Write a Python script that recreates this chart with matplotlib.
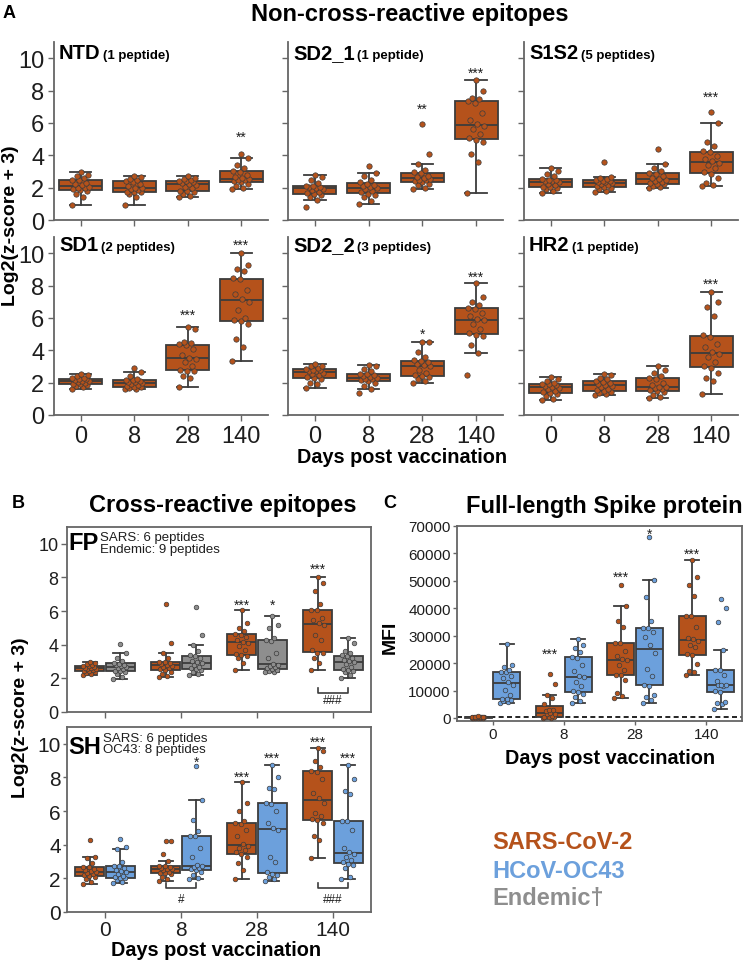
import numpy as np
import matplotlib
matplotlib.use('Agg')
import matplotlib.pyplot as plt

plt.rcParams['font.family'] = ['Liberation Sans', 'DejaVu Sans']

W, H = 744, 962
ORANGE = '#B5521B'
BLUE = '#6CA0DC'
GREY = '#8E8E8E'
EDGE = '#3C3C3C'
SPINE = '#666666'
TXT = '#1E1E1E'

days = ['0', '8', '28', '140']
log_ticks = [0, 2, 4, 6, 8, 10]
mfi_ticks = [0, 10000, 20000, 30000, 40000, 50000, 60000, 70000]

# ---- panel A: non-cross-reactive epitopes, SARS-CoV-2 only (day 0, 8, 28, 140)
a_names = ['NTD', 'SD2_1', 'S1S2', 'SD1', 'SD2_2', 'HR2']
a_notes = ['(1 peptide)', '(1 peptide)', '(5 peptides)', '(2 peptides)', '(3 peptides)', '(1 peptide)']

ntd = [
    [0.95, 1.4, 1.6, 1.8, 1.85, 1.9, 1.95, 2.0, 2.05, 2.15, 2.2, 2.3, 2.45, 2.5, 2.6, 2.7, 2.8, 2.95],
    [0.95, 1.45, 1.6, 1.7, 1.72, 1.76, 1.85, 1.9, 1.95, 2.0, 2.1, 2.2, 2.35, 2.42, 2.5, 2.55, 2.65, 2.7],
    [1.4, 1.5, 1.6, 1.7, 1.77, 1.8, 1.95, 2.05, 2.15, 2.25, 2.3, 2.33, 2.38, 2.42, 2.5, 2.55, 2.62, 2.7],
    [1.9, 2.0, 2.1, 2.25, 2.33, 2.4, 2.45, 2.5, 2.52, 2.58, 2.65, 2.8, 2.95, 3.02, 3.2, 3.4, 3.85, 4.05],
]
sd2_1 = [
    [0.83, 1.25, 1.4, 1.55, 1.6, 1.65, 1.75, 1.85, 1.9, 2.0, 2.02, 2.05, 2.08, 2.1, 2.3, 2.5, 2.65, 2.8],
    [1.0, 1.2, 1.4, 1.55, 1.63, 1.7, 1.8, 1.9, 1.95, 2.05, 2.1, 2.15, 2.25, 2.32, 2.5, 2.7, 2.9, 3.35],
    [1.9, 2.0, 2.15, 2.25, 2.32, 2.38, 2.45, 2.5, 2.55, 2.6, 2.65, 2.75, 2.9, 2.94, 3.1, 3.48, 4.06, 5.94],
    [1.69, 3.6, 4.1, 4.8, 4.95, 5.05, 5.3, 5.6, 5.8, 5.95, 6.2, 6.6, 7.2, 7.38, 7.5, 7.55, 8.0, 8.66],
]
s1s2 = [
    [1.67, 1.8, 1.9, 2.0, 2.02, 2.06, 2.15, 2.25, 2.32, 2.38, 2.4, 2.45, 2.5, 2.53, 2.7, 2.85, 3.0, 3.2],
    [1.7, 1.8, 1.9, 2.0, 2.04, 2.08, 2.15, 2.2, 2.28, 2.32, 2.35, 2.4, 2.43, 2.46, 2.55, 2.6, 2.67, 3.57],
    [2.0, 2.05, 2.1, 2.2, 2.24, 2.28, 2.35, 2.42, 2.5, 2.55, 2.62, 2.7, 2.85, 2.9, 3.0, 3.2, 3.48, 4.4],
    [2.08, 2.15, 2.3, 2.6, 2.85, 2.95, 3.2, 3.4, 3.55, 3.63, 3.8, 3.95, 4.2, 4.24, 4.6, 4.8, 6.0, 6.7],
]
sd1 = [
    [1.59, 1.7, 1.8, 1.85, 1.89, 1.93, 2.0, 2.05, 2.08, 2.12, 2.15, 2.2, 2.24, 2.26, 2.3, 2.4, 2.5, 2.56],
    [1.59, 1.62, 1.68, 1.72, 1.74, 1.78, 1.85, 1.9, 1.97, 2.03, 2.06, 2.1, 2.15, 2.17, 2.25, 2.4, 2.66, 2.9],
    [1.75, 2.3, 2.4, 2.7, 2.75, 2.8, 3.0, 3.25, 3.45, 3.55, 3.7, 4.1, 4.3, 4.37, 4.45, 4.5, 5.3, 5.44],
    [3.36, 4.2, 4.7, 5.6, 5.8, 5.85, 6.0, 6.5, 7.0, 7.18, 7.5, 7.7, 8.4, 8.44, 8.9, 9.0, 9.3, 10.0],
]
sd2_2 = [
    [1.67, 1.9, 1.95, 2.2, 2.28, 2.32, 2.45, 2.55, 2.62, 2.7, 2.74, 2.78, 2.8, 2.83, 2.9, 3.0, 3.05, 3.13],
    [1.34, 1.59, 1.8, 2.0, 2.08, 2.15, 2.2, 2.25, 2.28, 2.34, 2.38, 2.45, 2.52, 2.56, 2.7, 2.85, 3.0, 3.09],
    [2.0, 2.1, 2.2, 2.35, 2.4, 2.45, 2.6, 2.8, 3.0, 3.06, 3.15, 3.25, 3.35, 3.37, 3.6, 3.9, 4.5, 4.52],
    [2.47, 3.81, 4.3, 4.9, 4.95, 5.05, 5.3, 5.6, 5.85, 5.91, 6.1, 6.3, 6.55, 6.62, 6.8, 7.0, 7.3, 8.14],
]
hr2 = [
    [0.93, 1.0, 1.15, 1.3, 1.37, 1.42, 1.5, 1.6, 1.68, 1.74, 1.8, 1.85, 1.9, 1.93, 2.0, 2.1, 2.2, 2.35],
    [1.22, 1.3, 1.35, 1.45, 1.49, 1.53, 1.6, 1.7, 1.8, 1.88, 1.92, 1.98, 2.05, 2.09, 2.2, 2.3, 2.45, 2.56],
    [1.07, 1.1, 1.25, 1.4, 1.49, 1.53, 1.58, 1.65, 1.7, 1.76, 1.85, 2.0, 2.25, 2.28, 2.4, 2.6, 2.8, 3.01],
    [1.28, 2.1, 2.3, 2.6, 2.9, 3.05, 3.3, 3.6, 3.8, 3.92, 4.2, 4.4, 4.8, 4.92, 6.1, 6.7, 7.0, 7.59],
]
a_stars = [['', '', '', '**'], ['', '', '**', '***'], ['', '', '', '***'],
           ['', '', '***', '***'], ['', '', '*', '***'], ['', '', '', '***']]
a_star_y = [[0, 0, 0, 5.4], [0, 0, 7.13, 9.34], [0, 0, 0, 7.88],
            [0, 0, 6.43, 10.76], [0, 0, 5.3, 8.8], [0, 0, 0, 8.39]]

# ---- panel B: cross-reactive epitopes
fp_sars = [
    [2.2, 2.25, 2.3, 2.38, 2.41, 2.45, 2.5, 2.55, 2.58, 2.6, 2.63, 2.67, 2.72, 2.74, 2.8, 2.85, 2.9, 2.99],
    [2.06, 2.15, 2.25, 2.4, 2.49, 2.53, 2.6, 2.7, 2.75, 2.79, 2.85, 2.9, 2.98, 3.0, 3.2, 3.49, 4.08, 6.44],
    [2.5, 2.9, 3.2, 3.35, 3.4, 3.45, 3.7, 3.9, 4.1, 4.18, 4.3, 4.45, 4.6, 4.64, 4.8, 5.0, 5.3, 6.08],
    [2.51, 2.9, 3.2, 3.5, 3.53, 3.7, 4.3, 4.6, 5.2, 5.28, 5.5, 5.6, 6.05, 6.09, 6.4, 7.2, 7.7, 8.02],
]
fp_endemic = [
    [1.96, 2.1, 2.25, 2.35, 2.41, 2.45, 2.55, 2.6, 2.66, 2.72, 2.78, 2.82, 2.88, 2.9, 3.05, 3.2, 3.49, 4.04],
    [2.2, 2.25, 2.35, 2.5, 2.56, 2.6, 2.7, 2.8, 2.9, 2.96, 3.05, 3.2, 3.33, 3.36, 3.6, 4.0, 4.59, 6.26],
    [2.36, 2.4, 2.45, 2.5, 2.56, 2.6, 2.65, 2.75, 2.82, 2.88, 3.2, 3.5, 4.2, 4.28, 4.4, 5.0, 5.2, 5.68],
    [2.0, 2.2, 2.35, 2.45, 2.5, 2.55, 2.7, 2.85, 2.95, 3.03, 3.1, 3.2, 3.33, 3.36, 3.5, 3.6, 4.1, 4.42],
]
sh_sars = [
    [1.64, 1.8, 1.95, 2.1, 2.15, 2.2, 2.25, 2.32, 2.38, 2.42, 2.5, 2.55, 2.65, 2.68, 2.9, 3.2, 3.27, 4.29],
    [1.82, 1.95, 2.1, 2.25, 2.29, 2.33, 2.4, 2.48, 2.53, 2.57, 2.62, 2.68, 2.72, 2.74, 3.05, 3.45, 4.24, 4.25],
    [1.96, 2.5, 2.9, 3.3, 3.45, 3.55, 3.7, 3.8, 3.95, 4.03, 4.5, 4.9, 5.25, 5.3, 5.4, 6.0, 6.5, 7.72],
    [3.21, 4.3, 4.5, 5.3, 5.45, 5.55, 5.7, 5.9, 6.5, 6.76, 7.1, 7.9, 8.35, 8.39, 8.6, 9.0, 9.6, 9.74],
]
sh_oc43 = [
    [1.74, 1.8, 1.9, 2.0, 2.03, 2.08, 2.15, 2.25, 2.35, 2.45, 2.5, 2.6, 2.72, 2.76, 3.0, 3.77, 3.87, 4.37],
    [1.96, 2.0, 2.2, 2.4, 2.5, 2.55, 2.6, 2.7, 2.73, 2.77, 3.3, 3.8, 4.5, 4.54, 4.8, 5.5, 6.63, 8.7],
    [1.86, 1.95, 2.1, 2.2, 2.28, 2.35, 3.0, 3.3, 4.9, 5.0, 5.3, 6.0, 6.4, 6.47, 7.3, 7.4, 8.0, 8.74],
    [1.96, 2.1, 2.6, 2.8, 2.87, 2.95, 3.1, 3.25, 3.45, 3.57, 3.8, 4.9, 5.4, 5.44, 7.0, 7.2, 7.9, 8.74],
]
fp_sars_stars, fp_sars_star_y = ['', '', '***', '***'], [0, 0, 6.61, 8.75]
fp_end_stars, fp_end_star_y = ['', '', '*', ''], [0, 0, 6.61, 0]
sh_sars_stars, sh_sars_star_y = ['', '', '***', '***'], [0, 0, 8.28, 10.34]
sh_oc_stars, sh_oc_star_y = ['', '*', '***', '***'], [0, 9.18, 9.44, 9.44]
fp_hash = [(3, '###')]
sh_hash = [(1, '#'), (3, '###')]

# ---- panel C: full-length spike protein (MFI)
spike_sars = [
    [50, 80, 100, 120, 140, 160, 180, 200, 220, 250, 280, 300, 330, 360, 400, 450, 500, 600],
    [0, 100, 200, 350, 480, 500, 900, 1300, 1600, 1800, 2400, 3000, 3040, 4980, 7400, 8500, 12250, 16000],
    [7280, 8000, 9000, 14000, 15500, 15650, 17500, 19500, 21000, 21480, 22500, 24500, 27400, 27440, 33000, 35200, 40660, 48670],
    [15660, 16800, 17200, 19700, 22800, 23360, 25800, 26500, 27900, 28660, 29200, 33300, 37200, 37280, 44500, 48500, 51500, 57650],
]
spike_oc43 = [
    [5340, 5800, 6200, 6600, 6900, 7100, 8500, 10200, 12000, 13200, 14500, 15300, 16600, 16800, 17500, 18500, 19300, 26940],
    [5460, 6200, 7500, 8800, 9500, 9900, 11500, 13000, 14800, 15300, 17000, 19500, 22000, 22120, 24000, 25500, 26500, 28880],
    [5580, 6500, 7800, 8500, 11800, 12150, 15200, 18000, 23800, 26440, 29500, 31500, 32800, 32920, 35300, 44000, 50240, 66020],
    [3400, 5200, 5600, 6000, 9500, 9860, 11500, 12000, 12100, 12180, 13500, 15800, 17500, 17630, 24880, 35070, 39930, 43330],
]
c_sars_stars, c_sars_star_y = ['', '***', '***', '***'], [0, 24880, 53030, 61290]
c_oc_stars, c_oc_star_y = ['', '', '*', ''], [0, 0, 68810, 0]
mfi_cutoff = 400

legend_names = ['SARS-CoV-2', 'HCoV-OC43', 'Endemic\u2020']
legend_colors = [ORANGE, BLUE, GREY]


fig = plt.figure(figsize=(W / 100, H / 100), dpi=100)


def axes_px(x0, y0, x1, y1):
    return fig.add_axes([x0 / W, 1 - y1 / H, (x1 - x0) / W, (y1 - y0) / H])


def fig_text(x, y, s, **kw):
    return fig.text(x / W, 1 - y / H, s, **kw)


def boxes(ax, groups, pos, width, color, jitter, msize):
    lw = 1.3
    ax.boxplot(groups, positions=pos, widths=width, patch_artist=True, showfliers=False,
               capwidths=width * 0.5, manage_ticks=False,
               boxprops=dict(facecolor=color, edgecolor=EDGE, linewidth=lw),
               medianprops=dict(color=EDGE, linewidth=lw),
               whiskerprops=dict(color=EDGE, linewidth=lw),
               capprops=dict(color=EDGE, linewidth=lw))
    for vals, p in zip(groups, pos):
        n = len(vals)
        offs = ((np.arange(n) * 0.618034) % 1 - 0.5) * 2 * jitter
        ax.scatter(p + offs, vals, s=msize, color=color, edgecolors=EDGE,
                   linewidths=0.5, zorder=3)


def star_marks(ax, xs, labels, ys, size=10):
    for x, lab, y in zip(xs, labels, ys):
        if lab:
            ax.annotate(lab, xy=(x, y), xytext=(0, -0.58 * size), textcoords='offset points',
                        ha='center', va='baseline', fontsize=size, color=TXT)


def hash_marks(ax, marks, y, ytxt, h):
    for x, lab in marks:
        ax.plot([x - 0.2, x - 0.2, x + 0.2, x + 0.2], [y + h, y, y, y + h], color=EDGE, lw=1.2)
        ax.text(x, ytxt, lab, ha='center', va='center', fontsize=8.5, color=TXT)


follow = []

# ---------------- panel A
a_data = [ntd, sd2_1, s1s2, sd1, sd2_2, hr2]
a_cols = [(54, 268), (288, 503), (524, 738)]
a_rows = [(43, 221), (238, 416)]
a_label_y = [0.91, 0.927]
for k in range(6):
    r, c = divmod(k, 3)
    ax = axes_px(a_cols[c][0], a_rows[r][0], a_cols[c][1], a_rows[r][1])
    boxes(ax, a_data[k], list(range(4)), 0.8, ORANGE, 0.17, 15)
    star_marks(ax, range(4), a_stars[k], a_star_y[k])
    ax.set_xlim(-0.5, 3.5)
    ax.set_ylim(0, 11)
    ax.set_xticks(range(4))
    ax.set_yticks(log_ticks)
    ax.set_xticklabels(days if r == 1 else [])
    ax.set_yticklabels(log_ticks if c == 0 else [])
    for s in ['top', 'right']:
        ax.spines[s].set_visible(False)
    for s in ['left', 'bottom']:
        ax.spines[s].set_color(SPINE)
        ax.spines[s].set_linewidth(1.3)
    ax.tick_params(length=4, width=1, color=SPINE, labelsize=17, pad=3, labelcolor=TXT)
    t1 = ax.text(0.023, a_label_y[r], a_names[k], transform=ax.transAxes, fontsize=14.5,
                 fontweight='bold', va='baseline', color='black')
    follow.append((ax, t1, a_notes[k], a_label_y[r]))

fig_text(410, 21, 'Non-cross-reactive epitopes', ha='center', va='baseline',
         fontsize=17, fontweight='bold')
fig_text(3, 18, 'A', fontsize=13, fontweight='bold', va='baseline')
fig_text(11, 226, 'Log2(z-score + 3)', rotation=90, ha='center', va='center',
         fontsize=14, fontweight='bold')
fig_text(402, 463, 'Days post vaccination', ha='center', va='baseline',
         fontsize=14.3, fontweight='bold')

# ---------------- panel B
b_specs = [
    ((67, 528, 371, 713), 'FP', fp_sars, fp_endemic, GREY, ['SARS: 6 peptides', 'Endemic: 9 peptides'],
     fp_sars_stars, fp_sars_star_y, fp_end_stars, fp_end_star_y, fp_hash, (1.13, 0.71), (541.5, 553)),
    ((67, 728, 371, 913), 'SH', sh_sars, sh_oc43, BLUE, ['SARS: 6 peptides', 'OC43: 8 peptides'],
     sh_sars_stars, sh_sars_star_y, sh_oc_stars, sh_oc_star_y, sh_hash, (1.44, 0.8), (742, 753)),
]
for i, (box, name, sars, other, ocol, note, s1, y1, s2, y2, hashes, hy, base) in enumerate(b_specs):
    ax = axes_px(*box)
    boxes(ax, sars, [d - 0.2 for d in range(4)], 0.38, ORANGE, 0.09, 11)
    boxes(ax, other, [d + 0.2 for d in range(4)], 0.38, ocol, 0.09, 11)
    star_marks(ax, [d - 0.2 for d in range(4)], s1, y1)
    star_marks(ax, [d + 0.2 for d in range(4)], s2, y2)
    hash_marks(ax, hashes, hy[0], hy[1], 0.28)
    ax.set_xlim(-0.5, 3.5)
    ax.set_ylim(0, 11)
    ax.set_xticks(range(4))
    ax.set_yticks(log_ticks)
    for s in ax.spines.values():
        s.set_color(SPINE)
        s.set_linewidth(1.3)
    if i == 0:
        ax.set_xticklabels([])
        ax.tick_params(length=4, width=1, color=SPINE, labelsize=13, pad=2, labelcolor=TXT)
    else:
        ax.set_xticklabels(days)
        ax.tick_params(axis='y', length=3, width=1, color=SPINE, labelsize=15, pad=1.5, labelcolor=TXT)
        ax.tick_params(axis='x', length=4, width=1, color=SPINE, labelsize=15, pad=1.5, labelcolor=TXT)
    top = 0.978 if i == 0 else 0.955
    t = ax.text(0.004, top, name, transform=ax.transAxes, fontsize=17, fontweight='bold',
                va='top', ha='left')
    follow.append((ax, t, note, base))

fig_text(12, 508, 'B', fontsize=13, fontweight='bold', va='baseline')
fig_text(223, 512, 'Cross-reactive epitopes', ha='center', va='baseline',
         fontsize=17, fontweight='bold')
fig_text(21, 718, 'Log2(z-score + 3)', rotation=90, ha='center', va='center',
         fontsize=14, fontweight='bold')
fig_text(216, 956, 'Days post vaccination', ha='center', va='baseline',
         fontsize=14.3, fontweight='bold')

# ---------------- panel C
ax = axes_px(457, 527, 742, 722)
boxes(ax, spike_sars, [d - 0.2 for d in range(4)], 0.38, ORANGE, 0.09, 11)
boxes(ax, spike_oc43, [d + 0.2 for d in range(4)], 0.38, BLUE, 0.09, 11)
star_marks(ax, [d - 0.2 for d in range(4)], c_sars_stars, c_sars_star_y)
star_marks(ax, [d + 0.2 for d in range(4)], c_oc_stars, c_oc_star_y)
ax.axhline(mfi_cutoff, color='black', lw=1.2, ls=(0, (3, 2)), zorder=1)
ax.set_xlim(-0.5, 3.5)
ax.set_ylim(-1100, 70000)
ax.set_xticks(range(4))
ax.set_xticklabels(days)
ax.set_yticks(mfi_ticks)
for s in ax.spines.values():
    s.set_color(SPINE)
    s.set_linewidth(1.3)
ax.tick_params(length=3, width=1, color=SPINE, labelsize=11, pad=1.5, labelcolor=TXT)

fig_text(383, 508, 'C', fontsize=13, fontweight='bold', va='baseline')
fig_text(604, 513, 'Full-length Spike protein', ha='center', va='baseline',
         fontsize=17, fontweight='bold')
fig_text(390, 637, 'MFI', rotation=90, ha='center', va='center', fontsize=14, fontweight='bold')
fig_text(610, 764, 'Days post vaccination', ha='center', va='baseline',
         fontsize=14.3, fontweight='bold')

for name, col, base in zip(legend_names, legend_colors, [849, 878, 905]):
    fig_text(492, base, name, color=col, fontsize=17, fontweight='bold', va='baseline')

# notes placed right after the bold region names
fig.canvas.draw()
renderer = fig.canvas.get_renderer()
for ax, t, note, pos in follow:
    bb = t.get_window_extent(renderer)
    if isinstance(note, str):
        x1 = ax.transAxes.inverted().transform((bb.x1, bb.y1))[0]
        ax.text(x1 + 0.012, pos, note, transform=ax.transAxes, fontsize=9.5,
                fontweight='bold', va='baseline')
    else:
        xpx = bb.x1 + 2
        for line, yb in zip(note, pos):
            fig.text(xpx / W, 1 - yb / H, line, fontsize=9.5, va='baseline', ha='left',
                     color=TXT)

fig.savefig('out.png', dpi=100)
